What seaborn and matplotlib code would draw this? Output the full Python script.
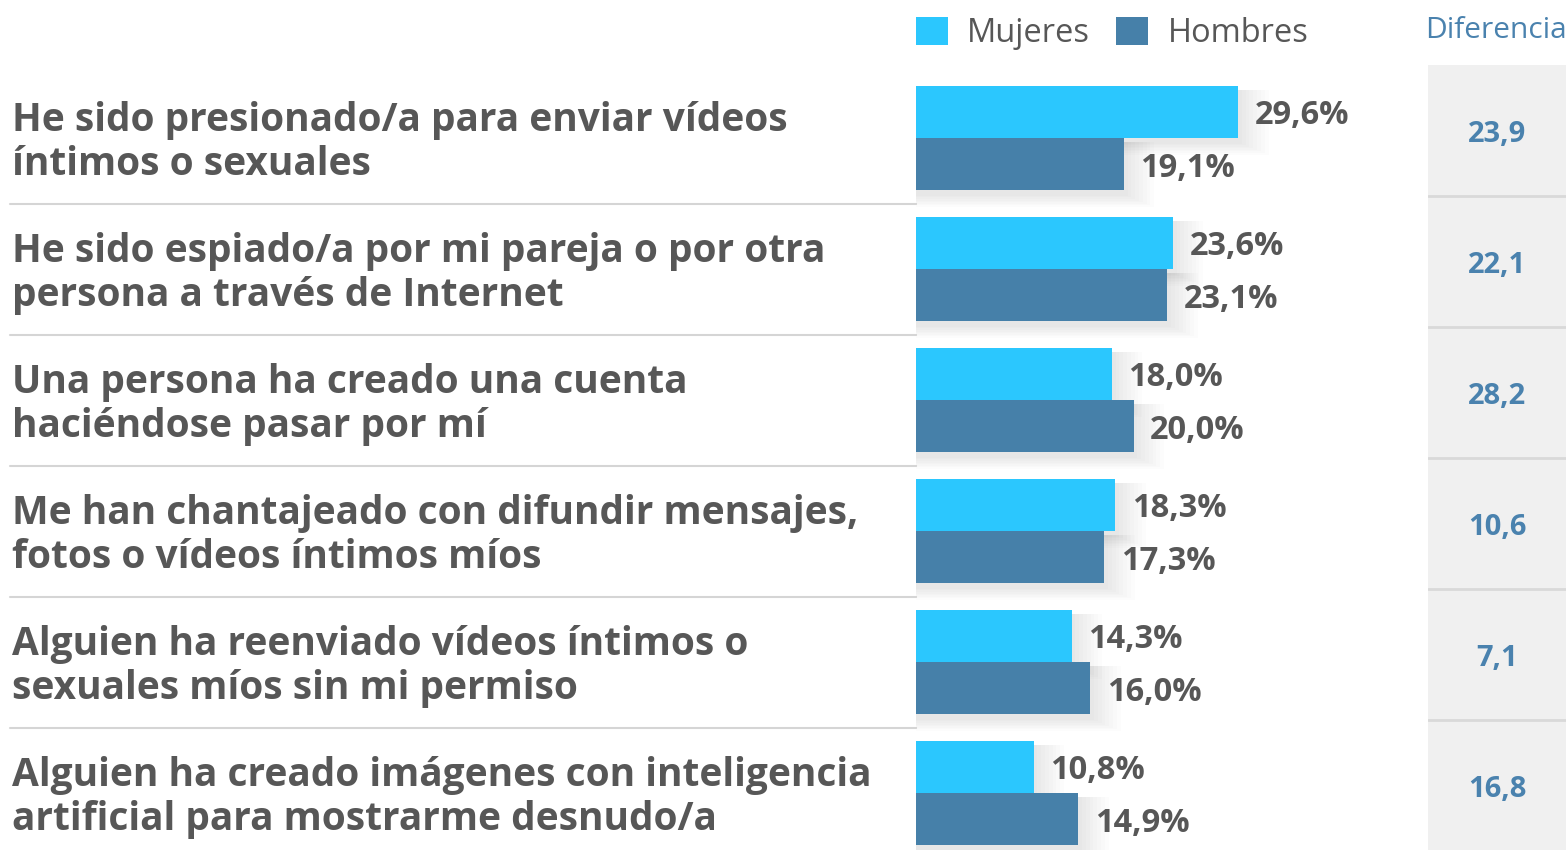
import matplotlib
matplotlib.use("Agg")
import matplotlib.pyplot as plt
import matplotlib.transforms as mtransforms
from matplotlib.patches import Rectangle
import seaborn as sns
import pandas as pd
import numpy as np

categorias = [
    "He sido presionado/a para enviar vídeos\níntimos o sexuales",
    "He sido espiado/a por mi pareja o por otra\npersona a través de Internet",
    "Una persona ha creado una cuenta\nhaciéndose pasar por mí",
    "Me han chantajeado con difundir mensajes,\nfotos o vídeos íntimos míos",
    "Alguien ha reenviado vídeos íntimos o\nsexuales míos sin mi permiso",
    "Alguien ha creado imágenes con inteligencia\nartificial para mostrarme desnudo/a",
]
mujeres = [29.6, 23.6, 18.0, 18.3, 14.3, 10.8]
hombres = [19.1, 23.1, 20.0, 17.3, 16.0, 14.9]
diferencia = ["23,9", "22,1", "28,2", "10,6", "7,1", "16,8"]
series = ["Mujeres", "Hombres"]

C_MUJ = "#2bc7fe"
C_HOM = "#4680a9"
C_TXT = "#575757"
C_DIF = "#4a82ae"

W, H = 1566, 850
sns.set_theme(style="white")
plt.rcParams["font.family"] = ["Open Sans", "DejaVu Sans"]

df = pd.DataFrame({
    "cat": categorias * 2,
    "val": mujeres + hombres,
    "sexo": [series[0]] * 6 + [series[1]] * 6,
})

fig = plt.figure(figsize=(W / 100, H / 100), dpi=100)
fig.patch.set_facecolor("white")

pitch = 131.0
top_px = 72.5
ax = fig.add_axes([916 / W, 0, (1428 - 916) / W, (H - top_px) / H])
sns.barplot(data=df, y="cat", x="val", hue="sexo", palette=[C_MUJ, C_HOM],
            orient="h", width=0.8, ax=ax, saturation=1, legend=True,
            edgecolor="none", linewidth=0)
px_per_unit = 10.88
ax.set_xlim(0, (1428 - 916) / px_per_unit)
ax.set_ylim(-0.5 + (H - top_px) / pitch, -0.5)
ax.set_xlabel("")
ax.set_ylabel("")
ax.set_xticks([])
ax.set_yticks([])
for s in ax.spines.values():
    s.set_visible(False)
ax.patch.set_alpha(0)

# soft shadow behind bars
bars = [p for p in ax.patches if isinstance(p, Rectangle) and p.get_height() > 0 and p.get_width() > 0]
for p in bars:
    x0, y0, w, h = p.get_x(), p.get_y(), p.get_width(), p.get_height()
    for k in range(1, 9):
        dx = k * 0.35
        dy = k * 0.012
        ax.add_patch(Rectangle((x0, y0 + 0.03), w + dx, h + dy, facecolor="black",
                               alpha=0.012, edgecolor="none", zorder=0.5))

# value labels
for p in bars:
    v = p.get_width()
    ax.annotate(f"{v:.1f}%".replace(".", ","), (v, p.get_y() + p.get_height() / 2),
                xytext=(12, -3), textcoords="offset points", ha="left", va="center",
                fontsize=23.5, fontweight="bold", color=C_TXT)

# legend
sns.move_legend(ax, "lower left", bbox_to_anchor=(0.0, 1.029), ncol=2, frameon=False,
                title=None, fontsize=23.5, handlelength=0.97, handleheight=0.95,
                handletextpad=0.6, columnspacing=0.8, borderaxespad=0, borderpad=0)
for t in ax.get_legend().get_texts():
    t.set_color(C_TXT)

# category labels and separators on the left
blend = mtransforms.blended_transform_factory(fig.transFigure, ax.transData)
for i, c in enumerate(categorias):
    fig.text(12 / W, i + 0.035, c, transform=blend, ha="left", va="center",
             fontsize=28, fontweight="bold", color=C_TXT, linespacing=1.16)
for i in range(len(categorias) - 1):
    ax.plot([10 / W, 916 / W], [i + 0.5, i + 0.5], transform=blend, color="#d5d5d5",
            lw=1.5, clip_on=False, zorder=0)

# Diferencia column
axd = fig.add_axes([1428 / W, 0, (W - 1428) / W, (H - 65) / H])
axd.set_xlim(0, 1)
axd.set_ylim(-0.5 + (H - 65) / pitch, -0.5)
axd.axis("off")
axd.add_patch(Rectangle((0, -0.5), 1, len(diferencia) + 1, facecolor="#f0f0f0",
                        edgecolor="none", zorder=0))
for i, d in enumerate(diferencia):
    axd.text(0.5, i + 0.03, d, ha="center", va="center", fontsize=21, fontweight="bold", color=C_DIF)
    if i < len(diferencia) - 1:
        axd.axhline(i + 0.5, color="#d9d9d9", lw=2)
fig.text(1425 / W, 1 - 30 / H, "Diferencia", ha="left", va="center",
         fontsize=21.5, color=C_DIF)

fig.savefig("out.png", dpi=100, facecolor="white")
